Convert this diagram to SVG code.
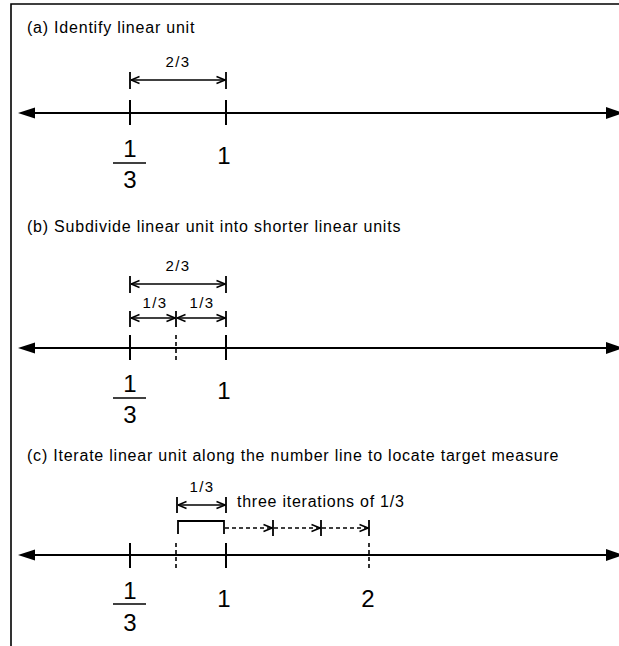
<svg xmlns="http://www.w3.org/2000/svg" width="619" height="646" viewBox="0 0 619 646">
<defs>
<style>
text{font-family:"Liberation Sans",Arial,Helvetica,sans-serif;fill:#000}
.title{font-size:16px;letter-spacing:0.78px}
.lbl{font-size:15px;letter-spacing:1.3px;text-anchor:middle}
.note{font-size:16px;letter-spacing:0.75px}
.num{font-size:24px;text-anchor:middle}
.nl{stroke:#000;stroke-width:1.8;fill:none}
.tick{stroke:#000;stroke-width:2;fill:none}
.dtick{stroke:#000;stroke-width:1.6;fill:none;stroke-dasharray:4 3}
.dim{stroke:#000;stroke-width:1.6;fill:none;marker-start:url(#open);marker-end:url(#open)}
.dimt{stroke:#000;stroke-width:1.8;fill:none}
.dash{stroke:#000;stroke-width:1.4;fill:none;stroke-dasharray:4 3;marker-end:url(#open)}
.bar{stroke:#000;stroke-width:1.6}
</style>
<marker id="open" viewBox="0 0 10 10" refX="9.5" refY="5" markerWidth="10" markerHeight="10" markerUnits="userSpaceOnUse" orient="auto-start-reverse">
<path d="M1,1.5 L9.5,5 L1,8.5" fill="none" stroke="#000" stroke-width="1.5" stroke-dasharray="none"/>
</marker>
</defs>
<path d="M11,646 V4 H619" fill="none" stroke="#000" stroke-width="1.6"/>

<g id="panel-a">
<text class="title" x="27" y="33">(a) Identify linear unit</text>
<g id="a-numberline">
<line class="nl" x1="34" y1="113" x2="608" y2="113"/>
<polygon points="18,113 35,107.5 35,118.5"/>
<polygon points="623,113 606,107 606,119"/>
<line class="tick" x1="130" y1="100" x2="130" y2="125"/>
<line class="tick" x1="226" y1="100" x2="226" y2="125"/>
</g>
<g id="a-labels">
<text class="num" x="130" y="157">1</text>
<line class="bar" x1="113" y1="163" x2="146" y2="163"/>
<text class="num" x="130" y="188">3</text>
<text class="num" x="224" y="164">1</text>
</g>
<g id="a-dim">
<text class="lbl" x="178" y="67">2/3</text>
<line class="dimt" x1="130" y1="72" x2="130" y2="89"/>
<line class="dimt" x1="226" y1="72" x2="226" y2="89"/>
<line class="dim" x1="131" y1="80" x2="225" y2="80"/>
</g>
</g>

<g id="panel-b">
<text class="title" x="27" y="232">(b) Subdivide linear unit into shorter linear units</text>
<g id="b-numberline">
<line class="nl" x1="34" y1="348" x2="608" y2="348"/>
<polygon points="18,348 35,342.5 35,353.5"/>
<polygon points="623,348 606,342 606,354"/>
<line class="tick" x1="130" y1="335" x2="130" y2="360"/>
<line class="dtick" x1="176" y1="335" x2="176" y2="360"/>
<line class="tick" x1="226" y1="335" x2="226" y2="360"/>
</g>
<g id="b-labels">
<text class="num" x="130" y="392">1</text>
<line class="bar" x1="113" y1="398" x2="146" y2="398"/>
<text class="num" x="130" y="423">3</text>
<text class="num" x="224" y="399">1</text>
</g>
<g id="b-dim">
<text class="lbl" x="178" y="271">2/3</text>
<line class="dimt" x1="130" y1="276" x2="130" y2="293"/>
<line class="dimt" x1="226" y1="276" x2="226" y2="293"/>
<line class="dim" x1="131" y1="284" x2="225" y2="284"/>
<text class="lbl" x="155" y="308">1/3</text>
<text class="lbl" x="202" y="308">1/3</text>
<line class="dimt" x1="130" y1="311" x2="130" y2="327"/>
<line class="dimt" x1="176" y1="311" x2="176" y2="327"/>
<line class="dimt" x1="226" y1="311" x2="226" y2="327"/>
<line class="dim" x1="131" y1="318" x2="175" y2="318"/>
<line class="dim" x1="177" y1="318" x2="225" y2="318"/>
</g>
</g>

<g id="panel-c">
<text class="title" x="27" y="461">(c) Iterate linear unit along the number line to locate target measure</text>
<g id="c-numberline">
<line class="nl" x1="34" y1="555" x2="608" y2="555"/>
<polygon points="18,555 35,549.5 35,560.5"/>
<polygon points="623,555 606,549 606,561"/>
<line class="tick" x1="130" y1="543" x2="130" y2="568"/>
<line class="dtick" x1="176" y1="543" x2="176" y2="568"/>
<line class="tick" x1="226" y1="543" x2="226" y2="568"/>
<line class="dtick" x1="369" y1="543" x2="369" y2="568"/>
</g>
<g id="c-labels">
<text class="num" x="130" y="599">1</text>
<line class="bar" x1="113" y1="604" x2="146" y2="604"/>
<text class="num" x="130" y="631">3</text>
<text class="num" x="224" y="607">1</text>
<text class="num" x="368" y="607">2</text>
</g>
<g id="c-dim">
<text class="lbl" x="202" y="492">1/3</text>
<line class="dimt" x1="177" y1="497" x2="177" y2="513"/>
<line class="dimt" x1="226" y1="497" x2="226" y2="513"/>
<line class="dim" x1="178" y1="505" x2="225" y2="505"/>
<text class="note" x="237" y="507">three iterations of 1/3</text>
</g>
<g id="c-iterations">
<path d="M178,534 V521 H224 V534" fill="none" stroke="#000" stroke-width="1.8"/>
<line class="dash" x1="225" y1="528" x2="272" y2="528"/>
<line class="dash" x1="274" y1="528" x2="320" y2="528"/>
<line class="dash" x1="322" y1="528" x2="368" y2="528"/>
<line class="dimt" x1="273" y1="520" x2="273" y2="536"/>
<line class="dimt" x1="321" y1="520" x2="321" y2="536"/>
<line class="dimt" x1="369" y1="520" x2="369" y2="536"/>
</g>
</g>
</svg>
